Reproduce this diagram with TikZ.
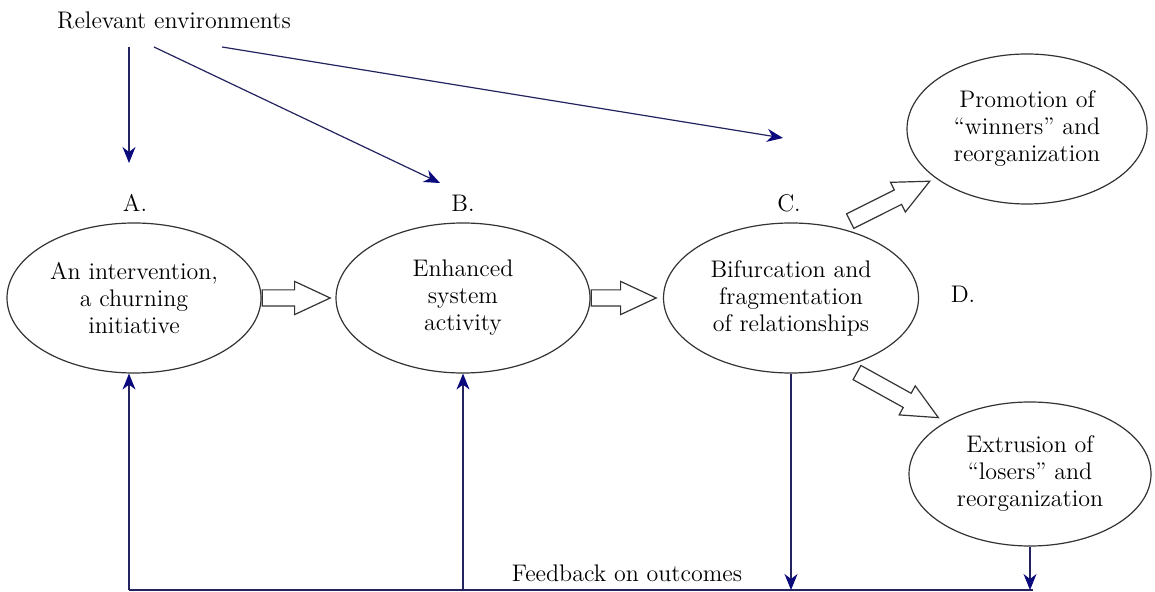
\documentclass[tikz,border=0pt]{standalone}
\usepackage{fontspec}
\usetikzlibrary{shapes.geometric,shapes.arrows,arrows.meta}

\definecolor{navyline}{RGB}{35,35,95}
\definecolor{navytip}{RGB}{10,10,125}

\begin{document}
\begin{tikzpicture}[x=0.5pt, y=-0.5pt,
    every node/.style={font=\fontsize{12}{13.5}\selectfont},
    stage/.style={draw=black!80, line width=0.6pt, ellipse, inner sep=0pt,
      align=center, minimum width=127pt, minimum height=75pt},
    flow/.style={draw=black!80, line width=0.6pt, single arrow,
      single arrow tip angle=50, single arrow head extend=4.25pt,
      text height=3.75pt, text depth=3.75pt, inner sep=0pt, anchor=tail},
    feed/.style={draw=navyline, line width=0.6pt},
    link/.style={feed, -{Stealth[length=8pt, width=6.5pt, inset=2.5pt, color=navytip]}}]

  \useasboundingbox (0,0) rectangle (1155,592);

  % Stages
  \node[stage] (A) at (134,298) {An intervention,\\a churning\\initiative}; %
  \node[stage] (B) at (463,298) {Enhanced\\system\\activity}; %
  \node[stage, minimum width=127.5pt] (C) at (791,298)
  {Bifurcation and\\fragmentation\\of relationships}; %
  \node[stage, minimum width=120pt] (P) at (1027,129)
  {Promotion of\\“winners” and\\reorganization}; %
  \node[stage, minimum width=121pt, minimum height=72pt] (E) at (1030,474)
  {Extrusion of\\“losers” and\\reorganization}; %

  % Stage letters
  \node (A-lab) at (135,203) {A.}; %
  \node (B-lab) at (463,203) {B.}; %
  \node (C-lab) at (789,203) {C.}; %
  \node (D-lab) at (963,294) {D.}; %

  % Environments
  \node (env) at (174,20) {Relevant environments}; %
  \coordinate (env-a) at (129,47); %
  \coordinate (env-b) at (154,47); %
  \coordinate (env-c) at (222,47); %
  \coordinate (to-A) at (129,163); %
  \coordinate (to-B) at (440,183); %
  \coordinate (to-C) at (783,138); %

  \draw[link] (env-a) -- (to-A); %
  \draw[link] (env-b) -- (to-B); %
  \draw[link] (env-c) -- (to-C); %

  % Hollow arrows
  \node[flow, minimum height=34pt] (AB) at (A.east) {}; %
  \node[flow, minimum height=32.5pt] (BC) at (B.east) {}; %
  \node[flow, minimum height=44.5pt, rotate=26.6]
  (CP) at ([xshift=2.5pt, yshift=4pt]C.52) {}; %
  \node[flow, minimum height=46.5pt, rotate=-29]
  (CE) at ([xshift=3.5pt, yshift=-3.5pt]C.-49) {}; %

  % Feedback
  \node (fb) at (627,573) {Feedback on outcomes}; %
  \coordinate (fb-A) at (129,590); %
  \coordinate (fb-B) at (463,590); %
  \coordinate (fb-D) at (1033,590); %

  \draw[feed] (fb-A) -- (fb-D); %
  \draw[link] (fb-A) -- (fb-A |- A.south); %
  \draw[link] (fb-B) -- (fb-B |- B.south); %
  \draw[link] (C.south) -- (C.south |- fb-A); %
  \draw[link] (E.south) -- (E.south |- fb-A); %

\end{tikzpicture}
\end{document}
